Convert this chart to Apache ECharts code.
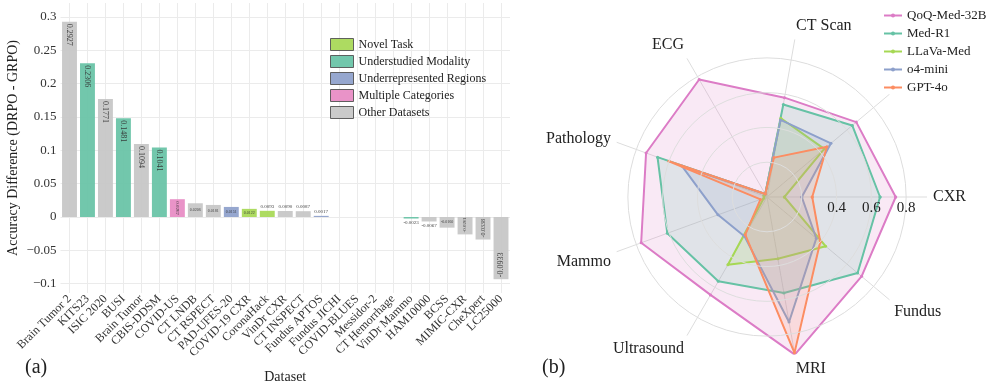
<!DOCTYPE html>
<html>
<head>
<meta charset="utf-8">
<script src="https://cdn.jsdelivr.net/npm/echarts@6/dist/echarts.min.js"></script>
<style>
  html, body { margin: 0; padding: 0; background: #fff; }
  #chart { width: 997px; height: 390px; }
</style>
</head>
<body>
<div id="chart"></div>
<script>
// (a) accuracy difference per dataset
var datasets = ['Brain Tumor 2', 'KITS23', 'ISIC 2020', 'BUSI', 'Brain Tumor', 'CBIS-DDSM', 'COVID-US',
  'CT LNDB', 'CT RSPECT', 'PAD-UFES-20', 'COVID-19 CXR', 'CoronaHack', 'VinDr CXR', 'CT INSPECT',
  'Fundus APTOS', 'Fundus JICHI', 'COVID-BLUES', 'Messidor-2', 'CT Hemorrhage', 'VinDr Mammo',
  'HAM10000', 'BCSS', 'MIMIC-CXR', 'CheXpert', 'LC25000'];
var diffValues = [0.2927, 0.2306, 0.1771, 0.1481, 0.1094, 0.1041, 0.0267,
  0.0206, 0.0181, 0.0151, 0.0122, 0.0093, 0.0090, 0.0087,
  0.0017, 0, 0, 0, 0, -0.0023,
  -0.0067, -0.0160, -0.0261, -0.0338, -0.0933];
// index into groupNames
var datasetGroups = [4, 1, 4, 1, 4, 1, 3,
  4, 4, 2, 0, 0, 4, 4,
  2, 4, 4, 4, 4, 1,
  4, 4, 4, 4, 4];
var groupNames = ['Novel Task', 'Understudied Modality', 'Underrepresented Regions', 'Multiple Categories', 'Other Datasets'];
var groupColors = ['#a6d854', '#66c2a5', '#8da0cb', '#e78ac3', '#c6c6c6'];

// (b) accuracy per modality
var modalities = ['CXR', '', 'CT Scan', 'ECG', 'Pathology', 'Mammo', 'Ultrasound', 'MRI', 'Fundus'];
var modelNames = ['QoQ-Med-32B', 'Med-R1', 'LLaVa-Med', 'o4-mini', 'GPT-4o'];
var qoqMed = [0.74, 0.67, 0.58, 0.78, 0.74, 0.77, 0.65, 0.92, 0.71];
var medR1 = [0.65, 0.64, 0.54, 0.02, 0.67, 0.61, 0.56, 0.56, 0.68];
var llavaMed = [0.10, 0.43, 0.46, 0.02, 0.02, 0.02, 0.45, 0.36, 0.44];
var o4Mini = [0.20, 0.48, 0.45, 0.02, 0.52, 0.30, 0.26, 0.73, 0.37];
var gpt4o = [0.26, 0.45, 0.23, 0.02, 0.60, 0.04, 0.25, 0.91, 0.40];
var radialLabels = [0.4, 0.6, 0.8];

var serif = 'Liberation Serif';
var modelScores = [qoqMed, medR1, llavaMed, o4Mini, gpt4o];
var modelColors = ['#dc7cc6', '#66c2a5', '#a6d854', '#8da0cb', '#fc8d62'];

function barLabel(v) {
  var a = Math.abs(v);
  if (v === 0) return {show: false};
  if (a >= 0.025) {
    return {
      show: true, rotate: v > 0 ? -90 : 90,
      position: v > 0 ? 'insideTop' : 'insideBottom',
      align: 'left', verticalAlign: 'middle', distance: 2,
      fontSize: a > 0.09 ? 8 : (a > 0.03 ? 6 : 5)
    };
  }
  if (a >= 0.012) return {show: true, position: 'inside', fontSize: 4};
  return {show: true, position: v > 0 ? 'top' : 'bottom', fontSize: 5, distance: 2};
}

var barSeries = groupNames.map(function(g, gi) {
  return {
    name: g,
    type: 'bar',
    stack: 'diff',
    barWidth: '83%',
    itemStyle: {color: groupColors[gi], opacity: 0.92},
    label: {
      color: '#333', fontFamily: serif,
      formatter: function(p) { return p.value.toFixed(4); }
    },
    data: diffValues.map(function(v, i) {
      if (datasetGroups[i] !== gi) return '-';
      return {value: v, label: barLabel(v)};
    })
  };
});

// spokes are numbered 0..n-1 on a value angle axis running 0..n,
// so repeating the first value at n closes each polygon
var radarSeries = modelNames.map(function(n, k) {
  var vals = modelScores[k];
  var pts = vals.map(function(v, i) { return [v, i]; });
  pts.push([vals[0], vals.length]);
  return {
    name: n,
    type: 'line',
    coordinateSystem: 'polar',
    data: pts,
    symbol: 'circle',
    symbolSize: 3,
    lineStyle: {width: 2, color: modelColors[k]},
    itemStyle: {color: modelColors[k]},
    areaStyle: {color: modelColors[k], opacity: 0.17},
    z: 3 + k
  };
});

// spoke labels that sit beside their spoke instead of centred on it
var angleRich = {'CT Scan': 'ct', 'MRI': 'mri', 'Pathology': 'mid'};

var chart = echarts.init(document.getElementById('chart'));
chart.setOption({
  animation: false,
  textStyle: {fontFamily: serif},
  grid: {left: 60.5, right: 487, top: 3, bottom: 97},
  xAxis: {
    type: 'category',
    data: datasets,
    axisLine: {show: false},
    axisTick: {show: false},
    axisLabel: {interval: 0, rotate: 45, fontSize: 12, color: '#333', margin: 4},
    splitLine: {show: true, alignWithLabel: true, lineStyle: {color: '#ebebeb'}},
    name: 'Dataset',
    nameLocation: 'middle',
    nameGap: 77,
    nameTextStyle: {fontSize: 14, color: '#222'}
  },
  yAxis: {
    type: 'value',
    min: -0.114,
    max: 0.321,
    splitNumber: 9,
    axisLabel: {
      fontSize: 13, color: '#333', margin: 4, showMinLabel: false, showMaxLabel: false,
      formatter: function(v) { return String(+v.toFixed(3)).replace('-', '\u2212'); }
    },
    splitLine: {showMinLine: false, showMaxLine: false, lineStyle: {color: '#ebebeb'}},
    name: 'Accuracy Difference (DRPO - GRPO)',
    nameLocation: 'middle',
    nameGap: 40,
    nameTextStyle: {fontSize: 14, color: '#222'}
  },
  polar: {center: [767, 197], radius: 160},
  angleAxis: {
    type: 'value',
    min: 0,
    max: modalities.length,
    interval: 1,
    startAngle: 0,
    clockwise: false,
    axisLine: {show: false},
    axisTick: {show: false},
    axisLabel: {
      fontSize: 16, color: '#222', margin: 6,
      formatter: function(v) {
        var m = modalities[v] || '';
        return angleRich[m] ? '{' + angleRich[m] + '|' + m + '}' : m;
      },
      rich: {
        ct: {fontSize: 16, padding: [0, 0, 0, 56]},
        mri: {fontSize: 16, padding: [0, 0, 0, 30]},
        mid: {fontSize: 16, lineHeight: 2}
      }
    },
    splitLine: {show: true, lineStyle: {color: '#dddddd'}}
  },
  radiusAxis: {
    min: 0,
    max: 0.92,
    interval: 0.2,
    z: 10,
    axisLine: {show: false},
    axisTick: {show: false},
    axisLabel: {
      fontSize: 15, color: '#222', verticalAlign: 'top', margin: -4,
      formatter: function(v) { return radialLabels.indexOf(+v.toFixed(2)) >= 0 ? String(+v.toFixed(2)) : ''; }
    },
    splitLine: {show: true, lineStyle: {color: ['#dddddd', '#dddddd', '#dddddd', '#dddddd', '#dddddd', 'transparent']}}
  },
  legend: [{
    orient: 'vertical',
    left: 330,
    top: 38,
    padding: 0,
    itemWidth: 23,
    itemHeight: 12,
    itemGap: 4,
    icon: 'rect',
    itemStyle: {borderColor: '#555', borderWidth: 1},
    textStyle: {fontSize: 12, lineHeight: 12, color: '#222', fontFamily: serif},
    data: groupNames
  }, {
    orient: 'vertical',
    left: 883,
    top: 9,
    padding: 0,
    itemWidth: 18,
    itemHeight: 5,
    itemGap: 5,
    backgroundColor: '#fff',
    textStyle: {fontSize: 13, lineHeight: 13, color: '#222', fontFamily: serif},
    data: modelNames
  }],
  graphic: [
    {type: 'text', left: 25, top: 358, style: {text: '(a)', font: '20px "Liberation Serif"', fill: '#222'}},
    {type: 'text', left: 542, top: 358, style: {text: '(b)', font: '20px "Liberation Serif"', fill: '#222'}}
  ],
  series: barSeries.concat(radarSeries)
});
</script>
</body>
</html>
